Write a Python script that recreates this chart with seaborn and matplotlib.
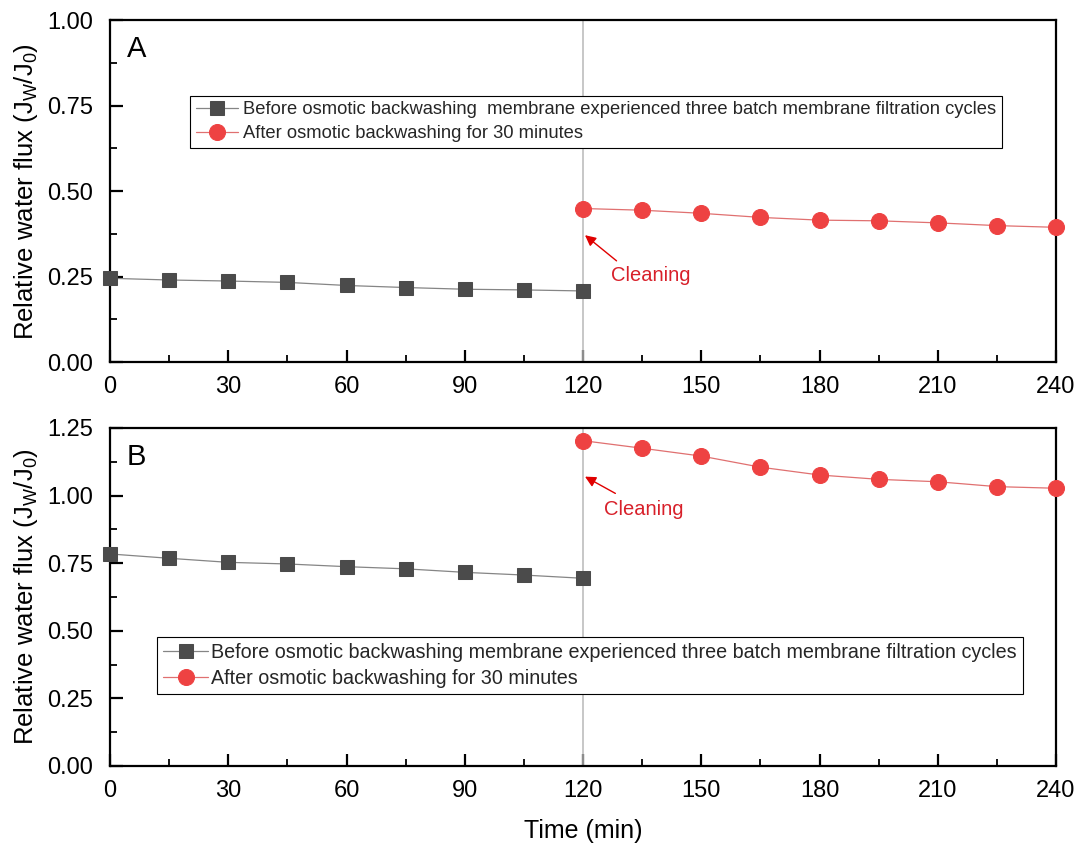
import numpy as np
import pandas as pd
import matplotlib
matplotlib.use("Agg")
import matplotlib.pyplot as plt
import seaborn as sns
from matplotlib.ticker import MultipleLocator

# ---------------- data ----------------
time_before = [0, 15, 30, 45, 60, 75, 90, 105, 120]
time_after = [120, 135, 150, 165, 180, 195, 210, 225, 240]

a_before = [0.245, 0.240, 0.237, 0.233, 0.224, 0.218, 0.213, 0.211, 0.208]
a_after = [0.449, 0.444, 0.435, 0.423, 0.415, 0.413, 0.407, 0.399, 0.394]

b_before = [0.784, 0.768, 0.753, 0.747, 0.737, 0.729, 0.716, 0.706, 0.694]
b_after = [1.203, 1.175, 1.146, 1.105, 1.076, 1.060, 1.051, 1.033, 1.027]

label_before_a = "Before osmotic backwashing  membrane experienced three batch membrane filtration cycles"
label_before_b = "Before osmotic backwashing membrane experienced three batch membrane filtration cycles"
label_after = "After osmotic backwashing for 30 minutes"

x_ticks = [0, 30, 60, 90, 120, 150, 180, 210, 240]

# ---------------- style ----------------
sns.set_theme(style="ticks")
plt.rcParams["font.family"] = ["Liberation Sans", "DejaVu Sans"]
plt.rcParams["mathtext.fontset"] = "custom"
plt.rcParams["mathtext.rm"] = "Liberation Sans"
plt.rcParams["mathtext.it"] = "Liberation Sans:italic"
plt.rcParams["mathtext.bf"] = "Liberation Sans:bold"

GRAY_M = "#4b4b4b"
GRAY_L = "#858585"
RED_M = "#ee4242"
RED_L = "#e07070"
RED_T = "#d8202a"

fig = plt.figure(figsize=(10.84, 8.52), dpi=100)
axA = fig.add_axes([0.1015, 0.575, 0.8727, 0.4015])
axB = fig.add_axes([0.1015, 0.101, 0.8727, 0.3967])


def draw(ax, before, after, ymax, lab_before, leg_anchor, leg_fs, leg_pad,
         letter, tip, tail, text_xy):
    ax.axvline(120, color="#b8b8b8", lw=1.1, zorder=1)
    df_b = pd.DataFrame({"t": time_before, "v": before})
    df_a = pd.DataFrame({"t": time_after, "v": after})
    sns.lineplot(data=df_b, x="t", y="v", ax=ax, color=GRAY_L, lw=0.9,
                 marker="s", markersize=10, markerfacecolor=GRAY_M,
                 markeredgecolor=GRAY_M, label=lab_before, clip_on=False,
                 zorder=3)
    sns.lineplot(data=df_a, x="t", y="v", ax=ax, color=RED_L, lw=0.9,
                 marker="o", markersize=11.5, markerfacecolor=RED_M,
                 markeredgecolor=RED_M, label=label_after, clip_on=False,
                 zorder=3)
    ax.set_xlim(0, 240)
    ax.set_ylim(0, ymax)
    ax.set_xticks(x_ticks)
    ax.xaxis.set_minor_locator(MultipleLocator(15))
    ax.yaxis.set_major_locator(MultipleLocator(0.25))
    ax.yaxis.set_minor_locator(MultipleLocator(0.125))
    ax.yaxis.set_major_formatter(matplotlib.ticker.FormatStrFormatter("%.2f"))
    ax.tick_params(which="major", direction="in", length=9, width=1.6,
                   labelsize=17, color="black", labelcolor="black", pad=10)
    ax.tick_params(which="minor", direction="in", length=5, width=1.3,
                   color="black")
    ax.tick_params(axis="y", which="major", pad=12)
    for s in ax.spines.values():
        s.set_visible(True)
        s.set_color("black")
        s.set_linewidth(1.6)
    ax.set_ylabel(r"Relative water flux (J$_{\mathrm{W}}$/J$_{0}$)",
                  fontsize=18.5, color="black", labelpad=5)
    ax.set_xlabel("")
    leg = ax.legend(loc="upper left", bbox_to_anchor=leg_anchor,
                    frameon=True, fancybox=False, edgecolor="black",
                    framealpha=1, fontsize=leg_fs, handlelength=2.3,
                    handletextpad=leg_pad, borderpad=0.3, labelspacing=0.38,
                    borderaxespad=0)
    leg.get_frame().set_linewidth(0.8)
    ax.text(0.018, 0.955, letter, transform=ax.transAxes, fontsize=21,
            va="top", ha="left", color="black")
    ax.annotate("", xy=tip, xytext=tail,
                arrowprops=dict(arrowstyle="-|>", color="#e00000", lw=1.0,
                                mutation_scale=16, shrinkA=0, shrinkB=0))
    ax.text(text_xy[0], text_xy[1], "Cleaning", color=RED_T, fontsize=14.5,
            va="center", ha="left")


draw(axA, a_before, a_after, 1.0, label_before_a, (0.0846, 0.778), 13.2, 0.3,
     "A", tip=(120.5, 0.371), tail=(128.5, 0.296), text_xy=(127.0, 0.254))
draw(axB, b_before, b_after, 1.25, label_before_b, (0.0497, 0.382), 14.2, 0.15,
     "B", tip=(120.5, 1.070), tail=(128.2, 1.008), text_xy=(125.3, 0.947))

axB.set_xlabel("Time (min)", fontsize=18, color="black", labelpad=12)

fig.savefig("out.png", dpi=100)
